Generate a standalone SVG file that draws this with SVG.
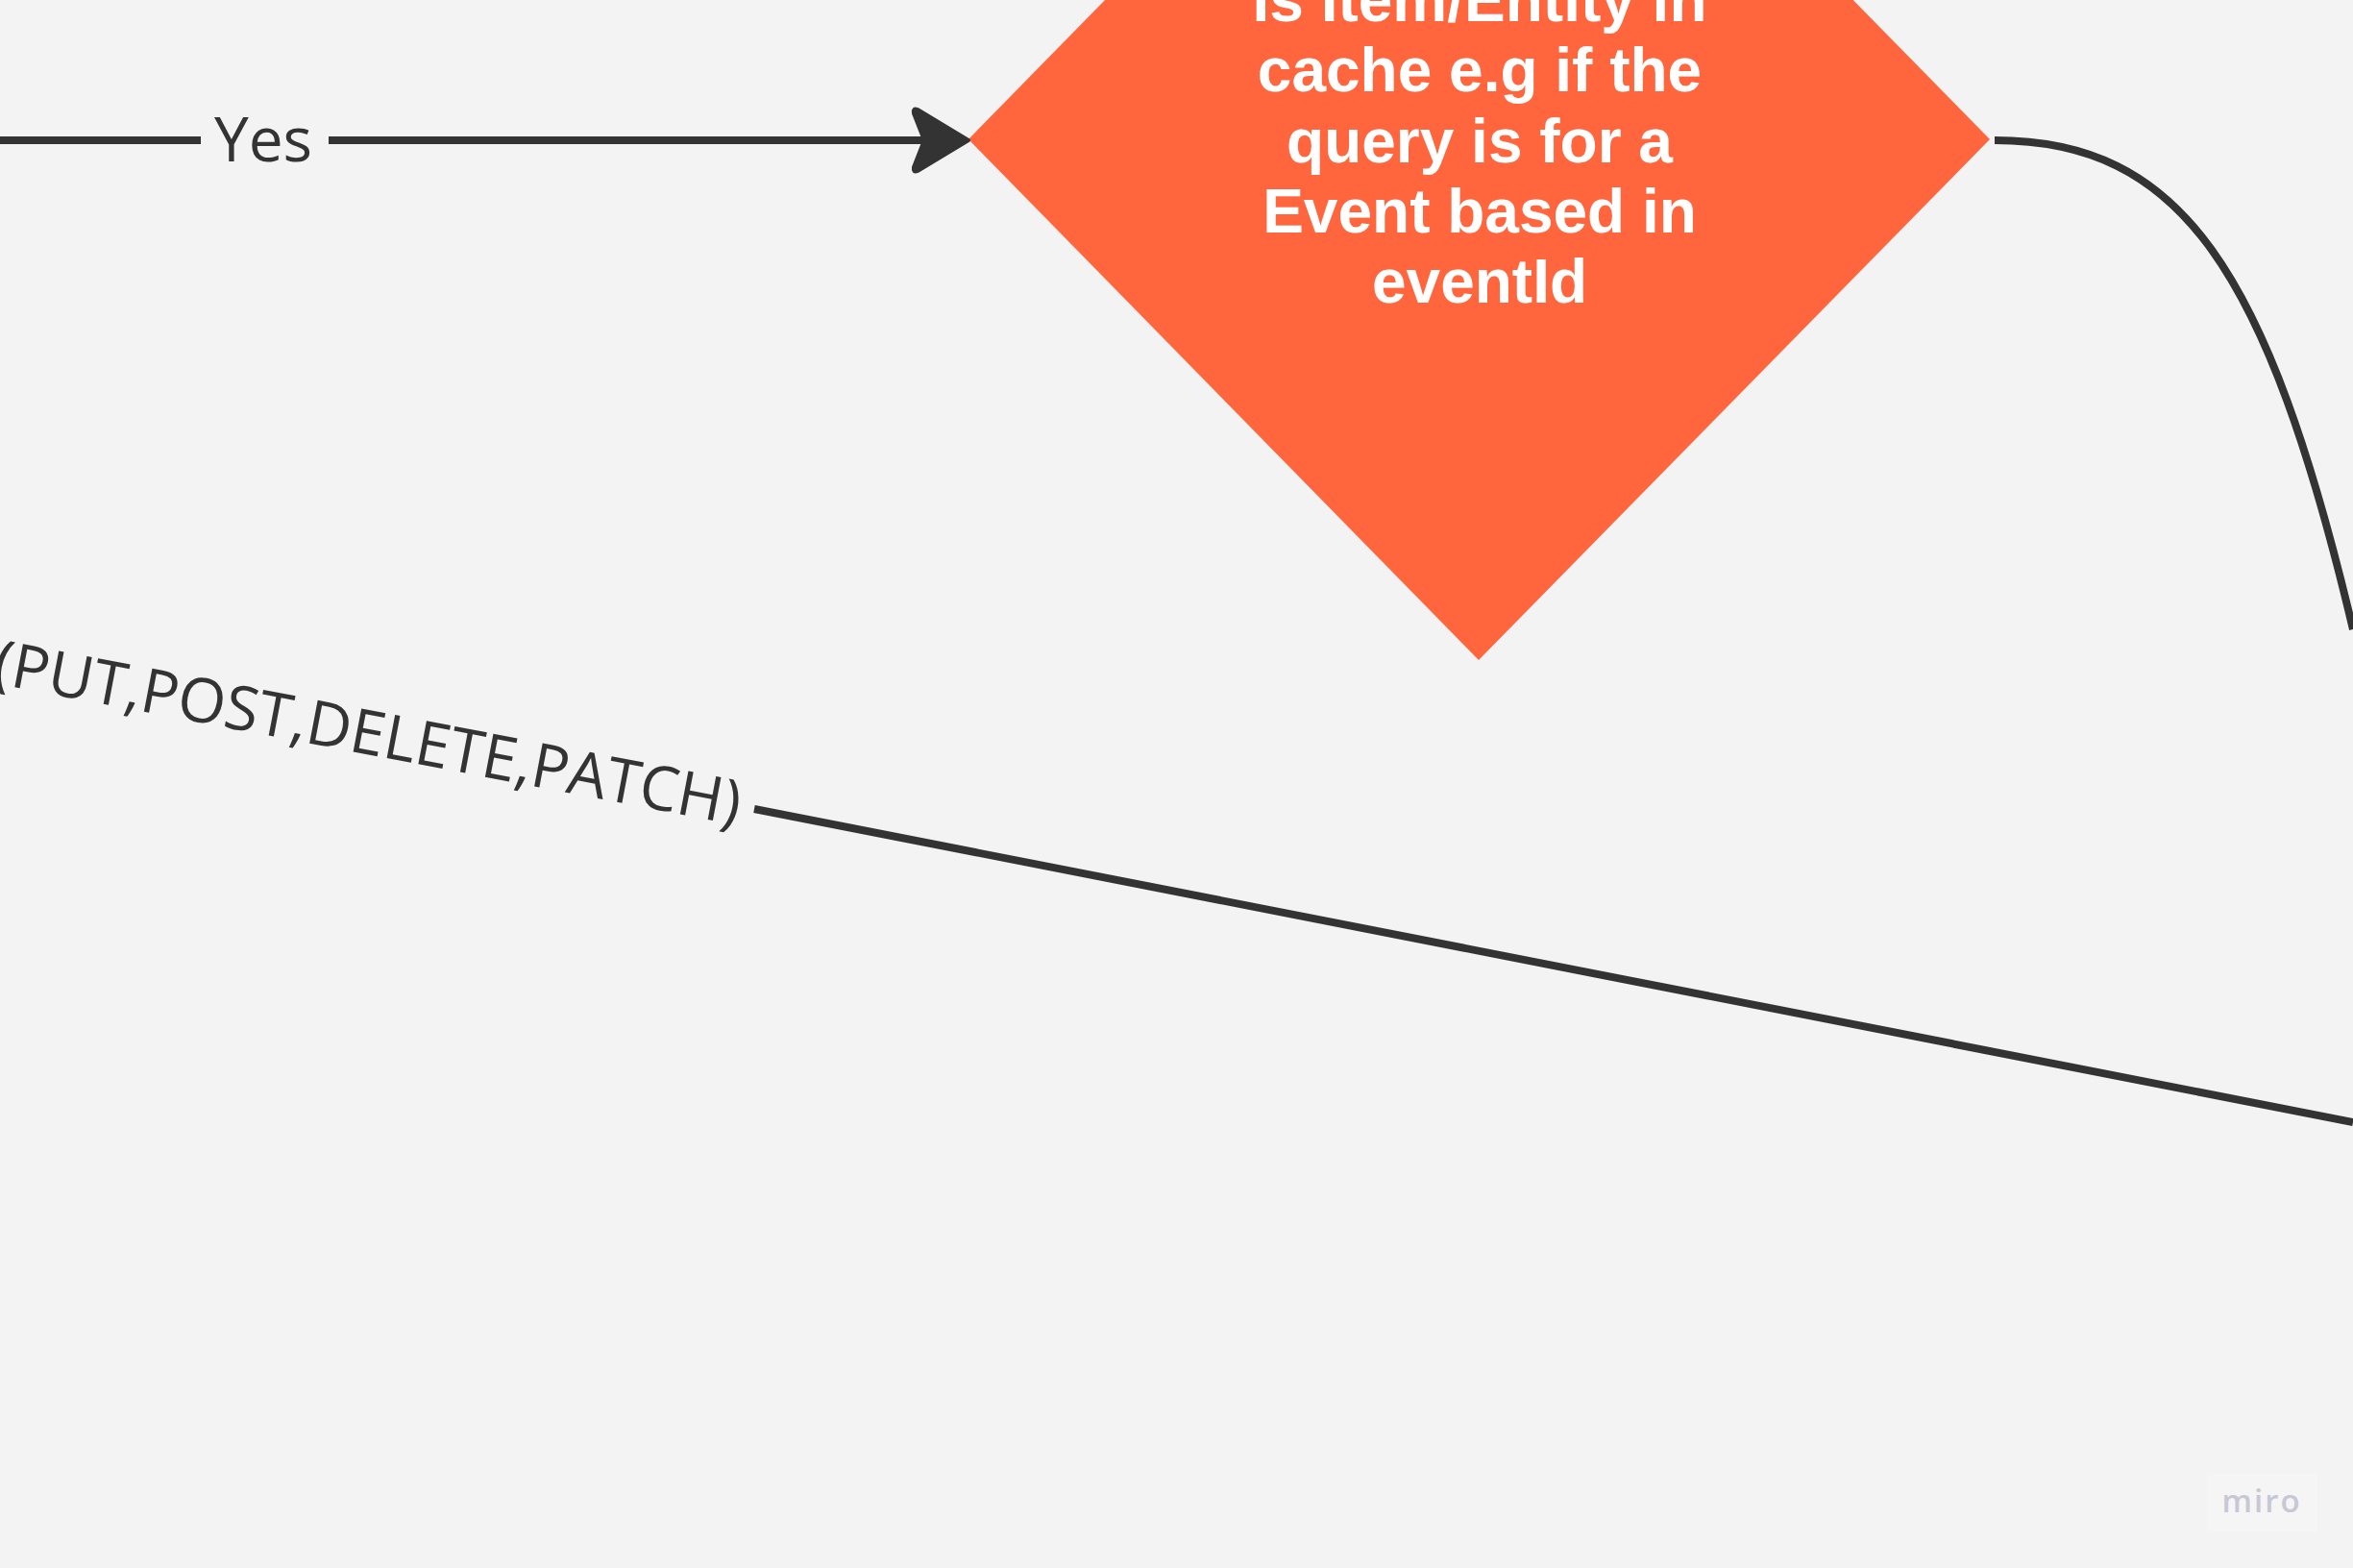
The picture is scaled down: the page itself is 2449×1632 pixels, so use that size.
<svg xmlns="http://www.w3.org/2000/svg" width="2449" height="1632" viewBox="0 0 2449 1632">
  <style>
    .conn { fill: none; stroke: #333333; stroke-width: 8; }
    .lbl { font-family: "Open Sans", "Liberation Sans", sans-serif; font-size: 64px; fill: #333333; }
    .dtext { font-family: "Liberation Sans", Arial, sans-serif; font-weight: bold; font-size: 64px; fill: #ffffff; text-anchor: middle; }
  </style>
  <rect x="0" y="0" width="2449" height="1632" fill="#f3f3f3"/>

  <g id="decision-cache">
    <polygon points="1539,-397 2071,145 1539,687 1008,145" fill="#ff663d"/>
    <text class="dtext" x="1540" y="22">Is Item/Entity in</text>
    <text class="dtext" x="1540" y="95">cache e.g if the</text>
    <text class="dtext" x="1540" y="169">query is for a</text>
    <text class="dtext" x="1540" y="242">Event based in</text>
    <text class="dtext" x="1540" y="315">eventId</text>
  </g>

  <g id="connectors">
    <line class="conn" x1="0" y1="146" x2="209" y2="146"/>
    <line class="conn" x1="342" y1="146" x2="962" y2="146"/>
    <path d="M1008,146 L955,114 Q950,112 951,118 L962,146 L951,174 Q950,180 955,178 Z" fill="#333333" stroke="#333333" stroke-width="4" stroke-linejoin="round"/>
    <text class="lbl" x="274" y="168" text-anchor="middle">Yes</text>

    <path class="conn" d="M2076,146 C2270,146 2360,280 2449,655" stroke-width="7"/>

    <line class="conn" x1="785" y1="842" x2="2449" y2="1168" stroke-width="7"/>
    <text class="lbl" transform="translate(15,715) rotate(10.81)" x="-24.7" y="0">(PUT,POST,DELETE,PATCH)</text>
  </g>

  <g id="miro-logo">
    <rect x="2297" y="1533" width="115" height="62" fill="#f5f5f5"/>
    <text x="2354" y="1574" text-anchor="middle" font-family="'Open Sans', 'Liberation Sans', sans-serif" font-weight="600" font-size="33" letter-spacing="2" fill="#c8c8d4">miro</text>
  </g>
</svg>
